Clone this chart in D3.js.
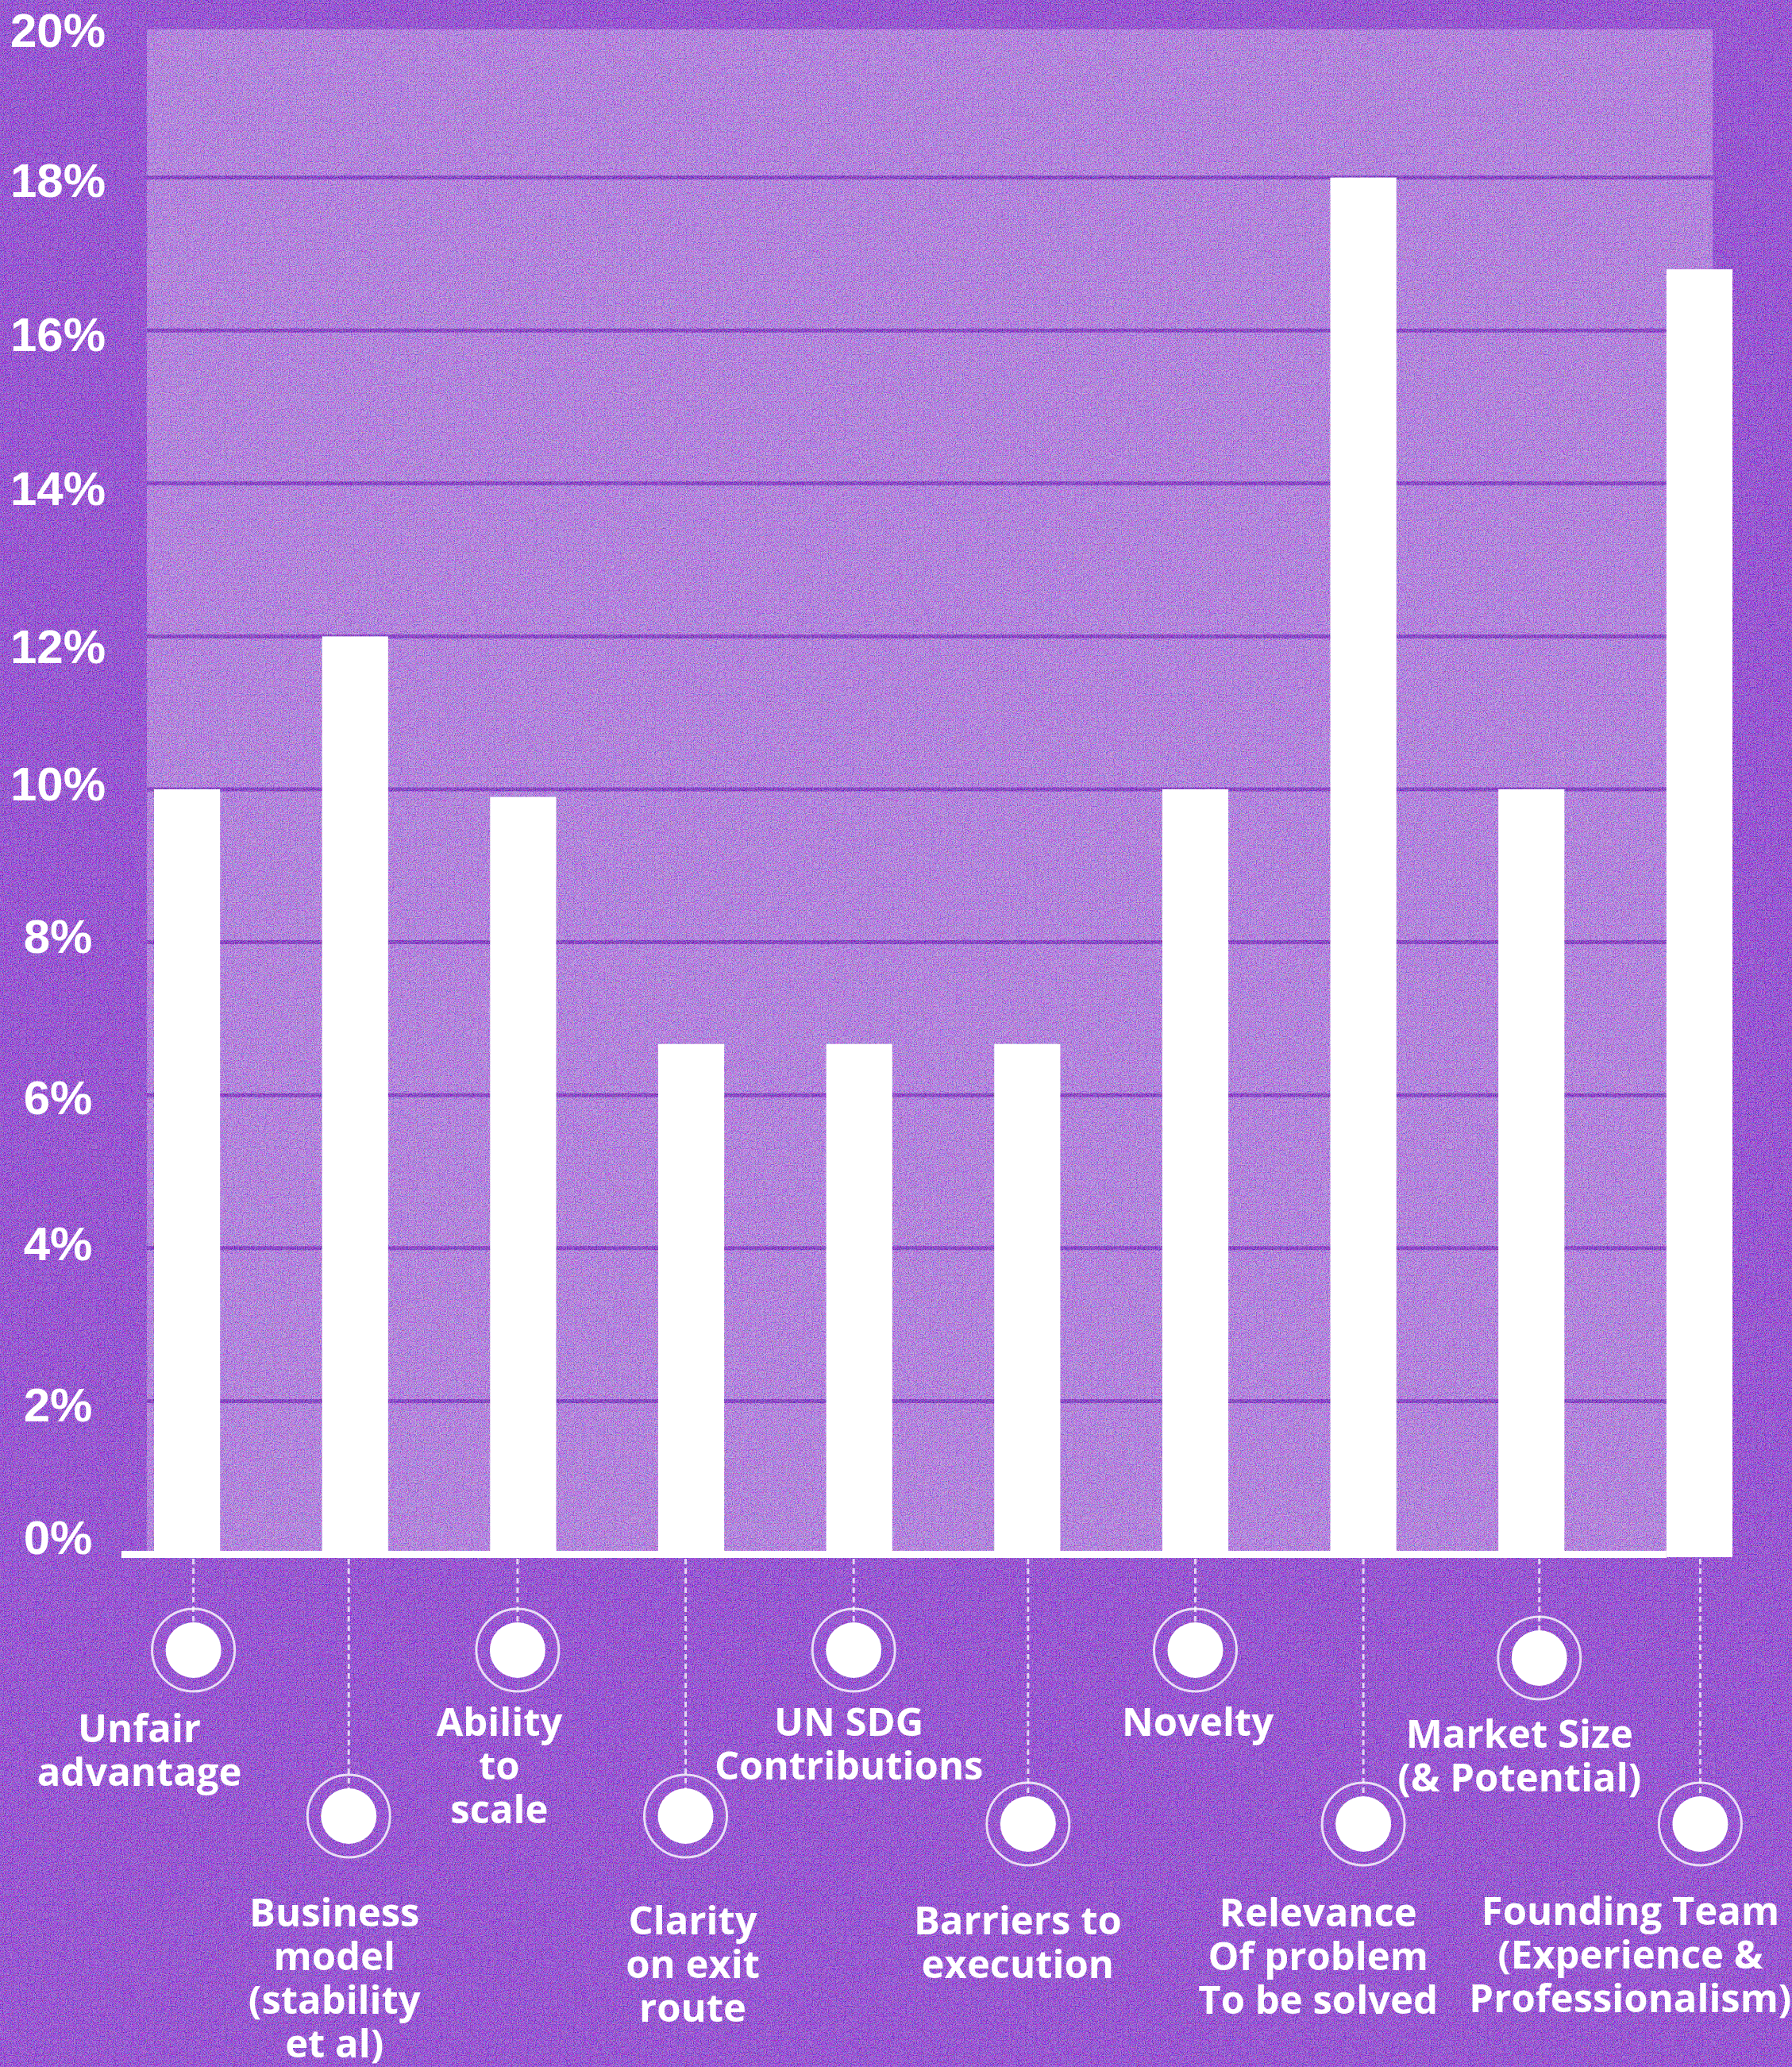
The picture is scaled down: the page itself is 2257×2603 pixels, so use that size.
<!DOCTYPE html>
<html>
<head>
<meta charset="utf-8">
<script src="https://cdn.jsdelivr.net/npm/d3@7"></script>
<style>
  html, body { margin: 0; padding: 0; background: #8b47d5; }
  svg { display: block; }
</style>
</head>
<body>
<svg id="chart" width="2257" height="2603"></svg>
<script>
// ---- data -------------------------------------------------------------
const categories = [
  "Unfair advantage",
  "Business model (stability et al)",
  "Ability to scale",
  "Clarity on exit route",
  "UN SDG Contributions",
  "Barriers to execution",
  "Novelty",
  "Relevance Of problem To be solved",
  "Market Size (& Potential)",
  "Founding Team (Experience & Professionalism)"
];
const labelLines = [
  ["Unfair", "advantage"],
  ["Business", "model", "(stability", "et al)"],
  ["Ability", "to", "scale"],
  ["Clarity", "on exit", "route"],
  ["UN SDG", "Contributions"],
  ["Barriers to", "execution"],
  ["Novelty"],
  ["Relevance", "Of problem", "To be solved"],
  ["Market Size", "(& Potential)"],
  ["Founding Team", "(Experience &", "Professionalism)"]
];
const shares = [10, 12, 9.9, 6.67, 6.67, 6.67, 10, 18, 10, 16.8];
const yTicks = [0, 2, 4, 6, 8, 10, 12, 14, 16, 18, 20];
const yTickLabels = ["0%", "2%", "4%", "6%", "8%", "10%", "12%", "14%", "16%", "18%", "20%"];

// ---- layout -----------------------------------------------------------
const W = 2257, H = 2603;
const colors = {
  bg: "#9149cc",
  panel: "#b98cdc",
  grid: "#7b34b8",
  white: "#ffffff"
};
const panel = { x0: 185, x1: 2157, y0: 37 };
const baselineX0 = 153;

// small vertical corrections for the tick labels (the zero label sits above the axis line)
const tickLabelDy = [-22, 4, -6, 2, -8, -8, 12, 6, 4, 3, 6];

// callouts alternate between an upper and a lower row
const tier = [0, 1, 0, 1, 0, 1, 0, 1, 0, 1];
const rowCircleY = [2078, 2290];
const rowLabelY = [2171, 2411];
const circleDx = [8, -8, -7, -7, -7, 1, 0, 0, 10, 1];
const circleNudge = [0, -3, 0, -3, 0, 7, 0, 7, 10, 7];
const labelNudgeY = [8, 0, 0, 10, 0, 10, 0, 0, 15, -2];
const labelDx = [-60, -26, -30, 2, -13, -12, 3, -57, -15, -87];
const lineHeight = 55;

const svg = d3.select("#chart");

const x = d3.scaleBand()
  .domain(categories)
  .range([194, 2182])
  .paddingInner(0.607)
  .paddingOuter(0);

const y = d3.scaleLinear()
  .domain([0, 20])
  .range([1957, 31]);

// grain texture
const defs = svg.append("defs");
const grain = defs.append("filter")
  .attr("id", "grain")
  .attr("x", 0).attr("y", 0).attr("width", W).attr("height", H)
  .attr("filterUnits", "userSpaceOnUse");
grain.append("feTurbulence")
  .attr("type", "fractalNoise")
  .attr("baseFrequency", 0.9)
  .attr("numOctaves", 2)
  .attr("seed", 7)
  .attr("stitchTiles", "stitch")
  .attr("result", "noise");
grain.append("feColorMatrix")
  .attr("in", "noise")
  .attr("type", "matrix")
  .attr("values", "4 0 0 0 -1.5  0 4 0 0 -1.75  0 0 4 0 -1.1  0 0 0 0 0.35");

// background and plotting panel
svg.append("rect")
  .attr("width", W).attr("height", H)
  .attr("fill", colors.bg);

svg.append("rect")
  .attr("x", panel.x0)
  .attr("y", panel.y0)
  .attr("width", panel.x1 - panel.x0)
  .attr("height", y(0) - panel.y0)
  .attr("fill", colors.panel);

// horizontal gridlines
svg.append("g")
  .selectAll("line")
  .data(yTicks.filter(v => v > 0 && v < 20))
  .join("line")
  .attr("x1", panel.x0)
  .attr("x2", panel.x1)
  .attr("y1", d => y(d))
  .attr("y2", d => y(d))
  .attr("stroke", colors.grid)
  .attr("stroke-width", 5);

// grain over the background layers
svg.append("rect")
  .attr("width", W).attr("height", H)
  .attr("filter", "url(#grain)");

// y-axis percentage labels
svg.append("g")
  .selectAll("text")
  .data(yTicks)
  .join("text")
  .attr("x", 73)
  .attr("y", (d, i) => y(d) + tickLabelDy[i])
  .attr("dy", "0.36em")
  .attr("text-anchor", "middle")
  .attr("font-family", "'Liberation Sans', Arial, sans-serif")
  .attr("font-weight", 700)
  .attr("font-size", 60)
  .attr("fill", colors.white)
  .text((d, i) => yTickLabels[i]);

// bars
svg.append("g")
  .selectAll("rect")
  .data(shares)
  .join("rect")
  .attr("x", (d, i) => x(categories[i]))
  .attr("y", d => y(d))
  .attr("width", x.bandwidth())
  .attr("height", d => y(0) - y(d) + 4)
  .attr("fill", colors.white);

// baseline
svg.append("rect")
  .attr("x", baselineX0)
  .attr("y", y(0) - 4)
  .attr("width", x(categories[categories.length - 1]) - baselineX0)
  .attr("height", 9)
  .attr("fill", colors.white);

// callouts: dashed leader, ring, dot and label
const bandMid = i => x(categories[i]) + x.bandwidth() / 2;
const cx = i => bandMid(i) + circleDx[i];
const cy = i => rowCircleY[tier[i]] + circleNudge[i];

const callouts = svg.append("g")
  .selectAll("g")
  .data(categories)
  .join("g");

callouts.append("line")
  .attr("x1", (d, i) => cx(i))
  .attr("x2", (d, i) => cx(i))
  .attr("y1", y(0) + 6)
  .attr("y2", (d, i) => cy(i))
  .attr("stroke", "rgba(255,255,255,0.75)")
  .attr("stroke-width", 3)
  .attr("stroke-dasharray", "7 5");

callouts.append("circle")
  .attr("cx", (d, i) => cx(i))
  .attr("cy", (d, i) => cy(i))
  .attr("r", 52)
  .attr("fill", "none")
  .attr("stroke", "rgba(255,255,255,0.8)")
  .attr("stroke-width", 3);

callouts.append("circle")
  .attr("cx", (d, i) => cx(i))
  .attr("cy", (d, i) => cy(i))
  .attr("r", 35)
  .attr("fill", colors.white);

callouts.append("text")
  .attr("text-anchor", "middle")
  .attr("font-family", "'Open Sans', 'Noto Sans', sans-serif")
  .attr("font-weight", 700)
  .attr("font-size", 49)
  .attr("fill", colors.white)
  .each(function (d, i) {
    const t = d3.select(this);
    const x0 = bandMid(i) + labelDx[i];
    const y0 = rowLabelY[tier[i]] + labelNudgeY[i];
    labelLines[i].forEach((line, k) => {
      t.append("tspan")
        .attr("x", x0)
        .attr("y", y0 + k * lineHeight + 15)
        .text(line);
    });
  });
</script>
</body>
</html>
